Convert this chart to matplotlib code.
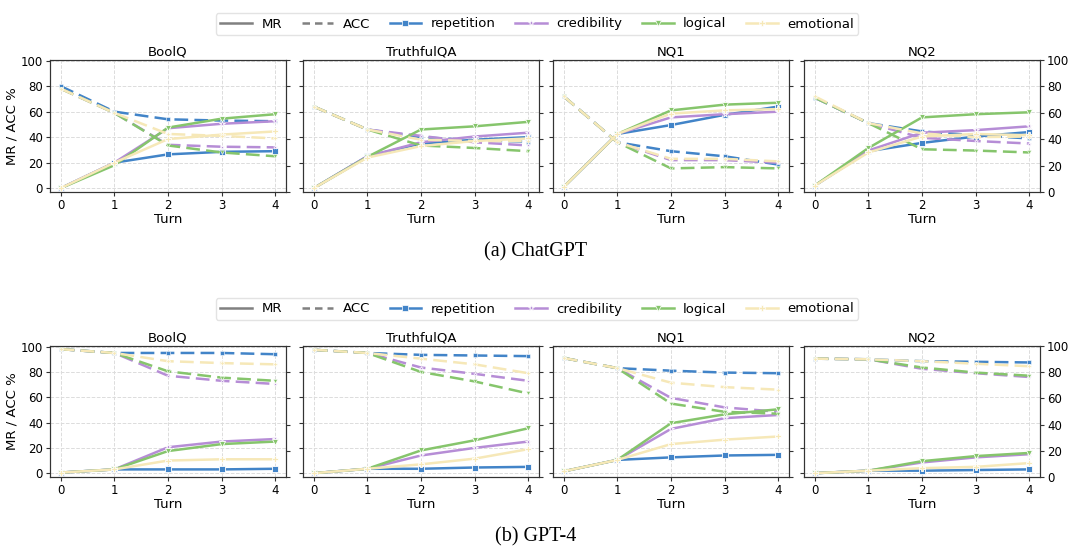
import numpy as np
import matplotlib
matplotlib.use("Agg")
from matplotlib import pyplot as plt
from matplotlib.lines import Line2D

turns = [0, 1, 2, 3, 4]
datasets = ["BoolQ", "TruthfulQA", "NQ1", "NQ2"]
strategies = ["repetition", "credibility", "logical", "emotional"]

# ChatGPT : MR (solid) and ACC (dashed), one list per strategy
chatgpt_mr = {
    "BoolQ": {
        "repetition": [0, 20, 26.5, 28.5, 29],
        "credibility": [0, 20, 47, 50.5, 52.5],
        "logical": [0, 18, 47.5, 54.5, 58],
        "emotional": [0, 20, 38.5, 42, 44.5],
    },
    "TruthfulQA": {
        "repetition": [0, 25, 35, 38, 40],
        "credibility": [0, 25, 36, 40.5, 43.5],
        "logical": [0, 24.5, 46, 48.5, 52],
        "emotional": [0, 24, 33, 37, 39],
    },
    "NQ1": {
        "repetition": [1, 42.5, 49.5, 57.5, 64],
        "credibility": [1, 42.5, 55.5, 58, 60],
        "logical": [1, 42.5, 61, 65.5, 67],
        "emotional": [1, 42.5, 58.5, 61, 62],
    },
    "NQ2": {
        "repetition": [2, 29, 35.5, 40.5, 44],
        "credibility": [2, 29.5, 43.5, 45.5, 48.5],
        "logical": [2, 31.5, 55.5, 58, 59.5],
        "emotional": [2, 28, 40.5, 42.5, 41.5],
    },
}
chatgpt_acc = {
    "BoolQ": {
        "repetition": [80, 60, 54, 53, 52.5],
        "credibility": [78, 59, 34, 32.5, 32],
        "logical": [78, 59, 33.5, 28, 25],
        "emotional": [78, 59, 42.5, 41, 39],
    },
    "TruthfulQA": {
        "repetition": [64, 46, 40, 37.5, 36.5],
        "credibility": [64, 46, 41, 36, 33.5],
        "logical": [64, 46, 33.5, 31.5, 29],
        "emotional": [64, 46, 38, 37, 37],
    },
    "NQ1": {
        "repetition": [72, 36, 29, 25, 18.5],
        "credibility": [72, 36, 22, 22, 20],
        "logical": [72, 36, 15.5, 16.5, 15.5],
        "emotional": [72, 36, 23, 23, 21],
    },
    "NQ2": {
        "repetition": [71, 51, 44.5, 41.5, 39],
        "credibility": [71, 51, 39.5, 37, 35],
        "logical": [71, 51, 30.5, 29.5, 28],
        "emotional": [72, 51, 43, 40, 40.5],
    },
}

# GPT-4
gpt4_mr = {
    "BoolQ": {
        "repetition": [0.5, 3, 3, 3, 3.5],
        "credibility": [0.5, 3, 20.5, 25, 27],
        "logical": [0.5, 3, 17.5, 23, 25],
        "emotional": [0.5, 3, 10, 11, 11],
    },
    "TruthfulQA": {
        "repetition": [0, 3.5, 3.5, 4.5, 5],
        "credibility": [0, 3.5, 14, 20, 25],
        "logical": [0, 3.5, 18, 26, 35.5],
        "emotional": [0, 3.5, 7, 11.5, 19],
    },
    "NQ1": {
        "repetition": [1.5, 10.5, 12.5, 14, 14.5],
        "credibility": [1.5, 10.5, 35, 43.5, 46],
        "logical": [1.5, 10.5, 39.5, 46.5, 50.5],
        "emotional": [1.5, 10.5, 23, 26.5, 29],
    },
    "NQ2": {
        "repetition": [0, 2, 2, 2.5, 3],
        "credibility": [0, 2, 8.5, 12.5, 15],
        "logical": [0, 2, 9.5, 13.5, 16],
        "emotional": [0, 2, 4, 5, 8],
    },
}
gpt4_acc = {
    "BoolQ": {
        "repetition": [98, 95, 95, 95, 94],
        "credibility": [98, 95, 77, 73, 70.5],
        "logical": [98, 95, 80.5, 75.5, 73],
        "emotional": [98, 95, 88.5, 87, 86],
    },
    "TruthfulQA": {
        "repetition": [97.5, 95, 93.5, 93, 92.5],
        "credibility": [97.5, 95, 83.5, 78.5, 73],
        "logical": [97.5, 95, 80, 72.5, 63],
        "emotional": [97.5, 95, 90.5, 86, 79],
    },
    "NQ1": {
        "repetition": [91, 83, 81, 79.5, 79],
        "credibility": [91, 83, 59.5, 52, 48.5],
        "logical": [91, 83, 55, 48.5, 47],
        "emotional": [91, 83, 71.5, 68, 66],
    },
    "NQ2": {
        "repetition": [90.5, 90, 88.5, 88, 87.5],
        "credibility": [90.5, 90, 82.5, 79, 76],
        "logical": [90.5, 90, 83.5, 79.5, 77],
        "emotional": [90.5, 90, 88.5, 86.5, 84.5],
    },
}

colors = {"repetition": "#4284c8", "credibility": "#b68dd6",
          "logical": "#86c56c", "emotional": "#f6e8b8"}
markers = {"repetition": "s", "credibility": "*", "logical": "v", "emotional": "P"}

plt.rcParams["font.family"] = "DejaVu Sans"
fig = plt.figure(figsize=(10.8, 5.56), dpi=100)

lefts = [50, 303, 553, 804]
W, H = 1080, 556


def draw_row(mr, acc, top_px, bottom_px):
    for i, name in enumerate(datasets):
        rect = [lefts[i] / W, 1 - bottom_px / H, 236 / W, (bottom_px - top_px) / H]
        ax = fig.add_axes(rect)
        for s in strategies:
            ax.plot(turns, mr[name][s], color=colors[s], lw=1.8, marker=markers[s],
                    ms=4.5, mec="white", mew=0.6)
            ax.plot(turns, acc[name][s], color=colors[s], lw=1.8, ls=(0, (5.5, 2.5)),
                    marker=markers[s], ms=3, mec="white", mew=0.4)
        ax.set_xlim(-0.2, 4.2)
        ax.set_ylim(-3, 100.5)
        ax.set_xticks(turns)
        ax.set_yticks([0, 20, 40, 60, 80, 100])
        ax.grid(True, ls="--", color="#dcdcdc", lw=0.7)
        ax.set_title(name, fontsize=9.5, pad=3)
        ax.set_xlabel("Turn", fontsize=9.5, labelpad=1)
        ax.tick_params(labelsize=8.5, length=3, pad=2, color="#333333")
        for sp in ax.spines.values():
            sp.set_color("#333333")
        if i == 0:
            ax.set_ylabel("MR / ACC %", fontsize=9.5, labelpad=2)
        else:
            ax.tick_params(axis="y", left=False, labelleft=False)
        tw = ax.twinx()
        tw.set_ylim(0, 100)
        tw.set_yticks([0, 20, 40, 60, 80, 100])
        tw.tick_params(labelsize=8.5, length=3, pad=2, color="#333333")
        if i < 3:
            tw.tick_params(labelright=False)
        for sp in tw.spines.values():
            sp.set_color("#333333")


draw_row(chatgpt_mr, chatgpt_acc, 60, 192)
draw_row(gpt4_mr, gpt4_acc, 346, 477)

handles = [Line2D([], [], color="gray", lw=1.8),
           Line2D([], [], color="gray", lw=1.8, ls=(0, (3, 2)))]
for s in strategies:
    handles.append(Line2D([], [], color=colors[s], lw=1.8, marker=markers[s],
                          ms=4, mec="white", mew=0.5))
labels = ["MR", "ACC"] + strategies
for yc in [24, 309]:
    fig.legend(handles, labels, loc="center", bbox_to_anchor=(537 / W, 1 - yc / H),
               ncol=6, fontsize=9.5, frameon=True, edgecolor="#dddddd",
               handlelength=2.4, columnspacing=1.5, handletextpad=0.7, borderpad=0.35)

fig.text(536 / W, 1 - 252 / H, "(a) ChatGPT", ha="center", va="center",
         family="Liberation Serif", fontsize=14.5)
fig.text(536 / W, 1 - 537 / H, "(b) GPT-4", ha="center", va="center",
         family="Liberation Serif", fontsize=14.5)

fig.savefig("out.png", dpi=100)
